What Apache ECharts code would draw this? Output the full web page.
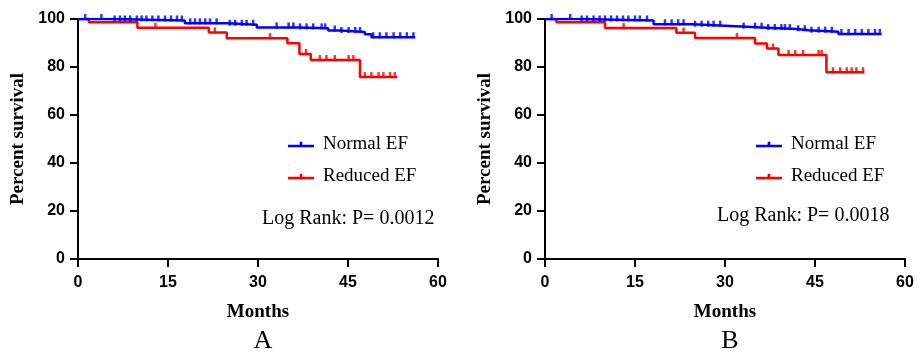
<!DOCTYPE html>
<html>
<head>
<meta charset="utf-8">
<script src="https://cdn.jsdelivr.net/npm/echarts@6/dist/echarts.min.js"></script>
<style>
html,body{margin:0;padding:0;background:#fff;}
#chart{width:919px;height:354px;}
</style>
</head>
<body>
<div id="chart"></div>
<script>
// x axis ticks (months), y axis ticks (percent)
var monthTicks = [0, 15, 30, 45, 60];
var pctTicks = [0, 20, 40, 60, 80, 100];

// panel A - step points (month, percent survival)
var normalA_t = [0, 5.9, 17.8, 24.8, 29.8, 36.7, 41.7, 43.8, 47.8, 48.9, 56.2];
var normalA_v = [100, 99.4, 98.2, 97.6, 96.5, 96.1, 95.2, 94.6, 93.6, 92.4, 92.4];
var reducedA_t = [0, 1.8, 9.9, 21.8, 24.8, 34.9, 36.9, 38.8, 47, 53.2];
var reducedA_v = [100, 98.6, 96.4, 94.4, 92, 89.9, 85.4, 82.9, 75.8, 75.8];
// censored times panel A
var normalA_cens = [1.2, 3.9, 6.1, 7, 7.8, 8.7, 9.8, 10.6, 11.4, 12.4, 13.4, 14.5, 15.5, 16.5, 17.3, 18.7, 19.5,
	20.3, 21.2, 22, 23.1, 25.3, 26.2, 27.3, 28.1, 29.2, 33.1, 35.1, 35.9, 37, 38.1, 39.2,
	40.6, 41.2, 42.8, 43.9, 45.1, 46.2, 47, 49.2, 50.3, 51.4, 52.6, 53.7, 54.8, 55.9];
var reducedA_cens = [12.9, 22.8, 32, 38, 40.3, 41.4, 42.8, 45.1, 45.9, 47.8, 48.9, 50.1, 50.9, 52, 52.8];

// panel B
var normalB_t = [0, 5.8, 18.1, 24.7, 30, 37, 42, 43.9, 48.9, 56.1];
var normalB_v = [100, 99.4, 97.8, 97.2, 96.4, 95.8, 95.3, 94.7, 93.8, 93.8];
var reducedB_t = [0, 1.9, 10, 21.9, 25, 35, 37, 38.9, 46.9, 53.2];
var reducedB_v = [100, 98.6, 96.2, 94.3, 92.1, 89.8, 87.7, 85, 77.8, 77.8];
var normalB_cens = [1.1, 4.2, 6.1, 7, 8.1, 9.1, 10, 11, 12, 13, 13.9, 15, 15.8, 17,
	20, 21.1, 22.2, 23.1, 25, 26.1, 27.2, 28.1, 29.2, 33.1, 35, 36.1, 37.2, 38.3, 39.4,
	40, 40.8, 42.2, 43.3, 44.4, 45.6, 46.7, 47.8, 49.4, 50.6, 51.7, 52.8, 53.9, 55, 55.8];
var reducedB_cens = [13.1, 23.1, 32, 38, 40.6, 41.7, 43, 45.6, 46.1, 48, 49.2, 50.3, 51.1, 51.9, 53];

var pValues = ['Log Rank: P= 0.0012', 'Log Rank: P= 0.0018'];
var panelNames = ['A', 'B'];

var BLUE = '#0000ff';
var RED = '#ff0000';
var serif = 'Liberation Serif';
var sans = 'Liberation Sans';

function toPairs(ts, vs){
	var out = [];
	for(var i=0;i<ts.length;i++){
		out.push([ts[i], vs[i]]);
	}
	return out;
}
// value of the step curve at time t
function levelAt(t, ts, vs){
	var v = vs[0];
	for(var i=0;i<ts.length;i++){
		if(ts[i] <= t) v = vs[i];
	}
	return v;
}
function censPairs(cens, ts, vs){
	var out = [];
	for(var i=0;i<cens.length;i++){
		out.push([cens[i], levelAt(cens[i], ts, vs)]);
	}
	return out;
}

var grids = [
	{left:78, top:19, width:360, height:240},
	{left:545, top:19, width:360, height:240}
];

function makeX(idx){
	return {
		type:'value', gridIndex:idx, min:0, max:60, interval:15,
		name:'Months', nameLocation:'middle', nameGap:44,
		nameTextStyle:{fontFamily:serif, fontWeight:'bold', fontSize:19, color:'#000'},
		axisLine:{lineStyle:{color:'#000', width:2}},
		axisTick:{show:true, length:8, lineStyle:{color:'#000', width:2}},
		axisLabel:{fontFamily:sans, fontWeight:'bold', fontSize:16, color:'#000', margin:16},
		splitLine:{show:false}
	};
}
function makeY(idx){
	return {
		type:'value', gridIndex:idx, min:0, max:100, interval:20,
		name:'Percent survival', nameLocation:'middle', nameGap:50, nameRotate:90,
		nameTextStyle:{fontFamily:serif, fontWeight:'bold', fontSize:19, color:'#000'},
		axisLine:{show:true, lineStyle:{color:'#000', width:2}},
		axisTick:{show:true, length:8, lineStyle:{color:'#000', width:2}},
		axisLabel:{fontFamily:sans, fontWeight:'bold', fontSize:16, color:'#000', margin:13},
		splitLine:{show:false}
	};
}

function stepSeries(name, color, idx, data, z){
	return {
		name:name, type:'line', step:'end', xAxisIndex:idx, yAxisIndex:idx,
		data:data, symbol:'none', z:z, animation:false,
		lineStyle:{color:color, width:2.5}, itemStyle:{color:color}
	};
}
function censSeries(name, color, idx, data, z){
	return {
		name:name, type:'scatter', xAxisIndex:idx, yAxisIndex:idx,
		data:data, symbol:'rect', symbolSize:[2.5,6], symbolOffset:[0,-2], z:z, animation:false,
		itemStyle:{color:color}
	};
}

var legendIcon = 'path://M0,3H26V5.5H0Z M11.7,0H14.3V3H11.7Z';
function makeLegend(idx, left){
	return {
		orient:'vertical', left:left, top:130, itemWidth:26, itemHeight:5.5, itemGap:13,
		data:[
			{name:'Normal EF', icon:legendIcon, itemStyle:{color:BLUE}},
			{name:'Reduced EF', icon:legendIcon, itemStyle:{color:RED}}
		],
		textStyle:{fontFamily:serif, fontSize:19, color:'#000', padding:[0,0,0,4]},
		selectedMode:false
	};
}

var option = {
	backgroundColor:'#fff',
	animation:false,
	grid:grids,
	xAxis:[makeX(0), makeX(1)],
	yAxis:[makeY(0), makeY(1)],
	legend:[makeLegend(0, 283), makeLegend(1, 751)],
	title:[
		{text:pValues[0], left:257, top:204, textStyle:{fontFamily:serif, fontSize:20, fontWeight:'normal', color:'#000'}},
		{text:pValues[1], left:712, top:201, textStyle:{fontFamily:serif, fontSize:20, fontWeight:'normal', color:'#000'}},
		{text:panelNames[0], left:258, top:323, textAlign:'center', textStyle:{fontFamily:serif, fontSize:26, fontWeight:'normal', color:'#000'}},
		{text:panelNames[1], left:725, top:323, textAlign:'center', textStyle:{fontFamily:serif, fontSize:26, fontWeight:'normal', color:'#000'}}
	],
	series:[
		stepSeries('Reduced EF', RED, 0, toPairs(reducedA_t, reducedA_v), 2),
		censSeries('Reduced EF', RED, 0, censPairs(reducedA_cens, reducedA_t, reducedA_v), 2),
		stepSeries('Normal EF', BLUE, 0, toPairs(normalA_t, normalA_v), 3),
		censSeries('Normal EF', BLUE, 0, censPairs(normalA_cens, normalA_t, normalA_v), 3),
		stepSeries('Reduced EF', RED, 1, toPairs(reducedB_t, reducedB_v), 2),
		censSeries('Reduced EF', RED, 1, censPairs(reducedB_cens, reducedB_t, reducedB_v), 2),
		stepSeries('Normal EF', BLUE, 1, toPairs(normalB_t, normalB_v), 3),
		censSeries('Normal EF', BLUE, 1, censPairs(normalB_cens, normalB_t, normalB_v), 3)
	]
};

var myChart = echarts.init(document.getElementById('chart'));
myChart.setOption(option);
</script>
</body>
</html>
